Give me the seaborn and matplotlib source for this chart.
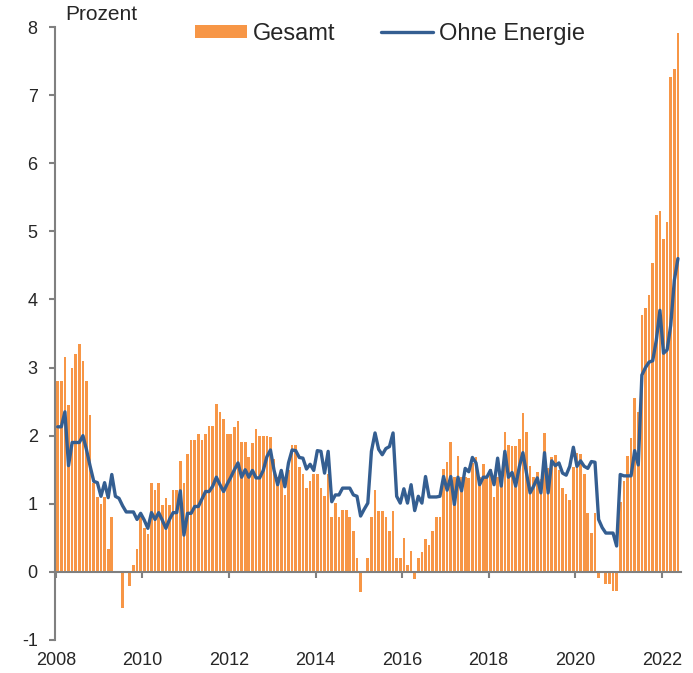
import numpy as np
import pandas as pd
import matplotlib
matplotlib.use("Agg")
import matplotlib.pyplot as plt
import seaborn as sns

# ---- data -----------------------------------------------------------
months = pd.period_range("2008-01", "2022-05", freq="M").astype(str).tolist()

gesamt = [
    # 2008
    2.8, 2.8, 3.15, 2.45, 3.0, 3.2, 3.35, 3.1, 2.8, 2.3, 1.3, 1.1,
    # 2009
    1.0, 1.1, 0.33, 0.8, 0.0, 0.0, -0.53, 0.0, -0.2, 0.1, 0.33, 0.8,
    # 2010
    0.65, 0.55, 1.3, 1.2, 1.3, 0.98, 1.08, 0.98, 1.2, 1.2, 1.63, 1.3,
    # 2011
    1.73, 1.94, 1.93, 2.03, 1.93, 2.03, 2.14, 2.14, 2.46, 2.35, 2.24, 2.02,
    # 2012
    2.02, 2.12, 2.21, 1.9, 1.9, 1.68, 1.89, 2.1, 1.99, 1.99, 1.99, 1.98,
    # 2013
    1.66, 1.4, 1.4, 1.13, 1.5, 1.86, 1.86, 1.54, 1.43, 1.23, 1.33, 1.43,
    # 2014
    1.43, 1.23, 1.12, 1.43, 0.81, 1.01, 0.81, 0.91, 0.91, 0.81, 0.6, 0.2,
    # 2015
    -0.29, 0.0, 0.2, 0.81, 1.2, 0.9, 0.9, 0.8, 0.6, 0.9, 0.2, 0.2,
    # 2016
    0.5, 0.1, 0.3, -0.1, 0.2, 0.29, 0.49, 0.4, 0.6, 0.8, 0.8, 1.51,
    # 2017
    1.61, 1.91, 1.4, 1.7, 1.4, 1.4, 1.38, 1.6, 1.68, 1.4, 1.59, 1.4,
    # 2018
    1.51, 1.1, 1.4, 1.4, 2.06, 1.86, 1.85, 1.85, 1.95, 2.34, 2.05, 1.56,
    # 2019
    1.4, 1.47, 1.37, 2.04, 1.53, 1.68, 1.72, 1.5, 1.23, 1.14, 1.05, 1.54,
    # 2020
    1.74, 1.73, 1.44, 0.86, 0.57, 0.86, -0.09, 0.0, -0.18, -0.18, -0.28, -0.28,
    # 2021
    1.03, 1.33, 1.7, 1.97, 2.55, 2.35, 3.77, 3.87, 4.06, 4.53, 5.24, 5.3,
    # 2022
    4.89, 5.14, 7.26, 7.39, 7.91,
]

ohne_energie = [
    # 2008
    2.13, 2.13, 2.35, 1.56, 1.9, 1.9, 1.9, 2.0, 1.79, 1.55, 1.33, 1.31,
    # 2009
    1.11, 1.31, 1.09, 1.43, 1.11, 1.08, 0.97, 0.88, 0.88, 0.88, 0.77, 0.86,
    # 2010
    0.76, 0.64, 0.87, 0.77, 0.87, 0.76, 0.64, 0.77, 0.87, 0.87, 1.19, 0.54,
    # 2011
    0.86, 0.86, 0.96, 0.96, 1.07, 1.18, 1.18, 1.26, 1.39, 1.28, 1.18, 1.29,
    # 2012
    1.39, 1.5, 1.6, 1.39, 1.5, 1.39, 1.49, 1.38, 1.38, 1.49, 1.69, 1.79,
    # 2013
    1.49, 1.28, 1.49, 1.25, 1.6, 1.79, 1.78, 1.68, 1.67, 1.51, 1.58, 1.49,
    # 2014
    1.78, 1.77, 1.45, 1.77, 1.03, 1.13, 1.13, 1.23, 1.23, 1.23, 1.13, 1.11,
    # 2015
    0.82, 0.92, 1.01, 1.77, 2.04, 1.8, 1.72, 1.81, 1.84, 2.04, 1.11, 1.01,
    # 2016
    1.22, 1.01, 1.28, 0.9, 1.11, 1.01, 1.4, 1.1, 1.1, 1.1, 1.11, 1.4,
    # 2017
    1.2, 1.4, 0.99, 1.39, 1.19, 1.52, 1.47, 1.68, 1.6, 1.28, 1.39, 1.39,
    # 2018
    1.49, 1.28, 1.67, 1.26, 1.77, 1.39, 1.46, 1.26, 1.54, 1.75, 1.45, 1.16,
    # 2019
    1.26, 1.38, 1.16, 1.75, 1.16, 1.63, 1.56, 1.6, 1.45, 1.42, 1.55, 1.83,
    # 2020
    1.55, 1.63, 1.55, 1.52, 1.62, 1.61, 0.77, 0.65, 0.57, 0.57, 0.57, 0.38,
    # 2021
    1.43, 1.41, 1.41, 1.41, 1.78, 1.57, 2.89, 3.0, 3.08, 3.1, 3.4, 3.84,
    # 2022
    3.21, 3.26, 3.62, 4.28, 4.6,
]

year_labels = ["2008", "2010", "2012", "2014", "2016", "2018", "2020", "2022"]
y_ticks = [-1, 0, 1, 2, 3, 4, 5, 6, 7, 8]

# ---- styling ----------------------------------------------------------
sns.set_style("white")
plt.rcParams["font.family"] = ["Liberation Sans", "DejaVu Sans"]

ORANGE = "#F79646"
BLUE = "#345E91"
GREY = "#808080"

pos = np.arange(len(months))
df = pd.DataFrame({"pos": pos, "month": months,
                   "Gesamt": gesamt, "Ohne Energie": ohne_energie})

fig = plt.figure(figsize=(6.93, 6.73), dpi=100)
ax = fig.add_axes([55 / 693, 1 - 640 / 673, (681 - 55) / 693, (640 - 27) / 673])

sns.barplot(data=df, x="pos", y="Gesamt", native_scale=True, color=ORANGE,
            width=0.74, saturation=1, ax=ax, label="Gesamt", linewidth=0)
sns.lineplot(data=df, x="pos", y="Ohne Energie", color=BLUE, linewidth=2.4,
             ax=ax, label="Ohne Energie")

ax.set_xlim(-0.75, len(months) - 0.15)
ax.set_ylim(-1, 8)
ax.set_xlabel("")
ax.set_ylabel("")

# x ticks at year boundaries (every two years)
tick_pos = [months.index(f"{y}-01") - 0.5 for y in year_labels]
ax.set_xticks(tick_pos)
ax.set_xticklabels(year_labels)
ax.set_yticks(y_ticks)
ax.set_yticklabels([str(v) for v in y_ticks])

for s in ["top", "right"]:
    ax.spines[s].set_visible(False)
ax.spines["bottom"].set_position(("data", 0))
for s in ["left", "bottom"]:
    ax.spines[s].set_color(GREY)
    ax.spines[s].set_linewidth(1.5)

ax.tick_params(axis="x", direction="out", length=4, width=1.5, color=GREY,
               pad=54, labelsize=13, bottom=True)
ax.tick_params(axis="y", direction="out", length=4.5, width=1.5, color=GREY,
               pad=8, labelsize=13, left=True)
ax.grid(False)

fig.text(65 / 693, 1 - 15 / 673, "Prozent", fontsize=15, va="center", ha="left")

handles, labels = ax.get_legend_handles_labels()
order = [labels.index("Gesamt"), labels.index("Ohne Energie")]
ax.legend([handles[i] for i in order], [labels[i] for i in order],
          loc="center", bbox_to_anchor=(390 / 693, 1 - 34 / 673),
          bbox_transform=fig.transFigure, ncol=2, frameon=False,
          handlelength=2.2, handleheight=0.5, columnspacing=1.9,
          handletextpad=0.25, fontsize=17, borderaxespad=0, borderpad=0)

fig.savefig("out.png", dpi=100)
